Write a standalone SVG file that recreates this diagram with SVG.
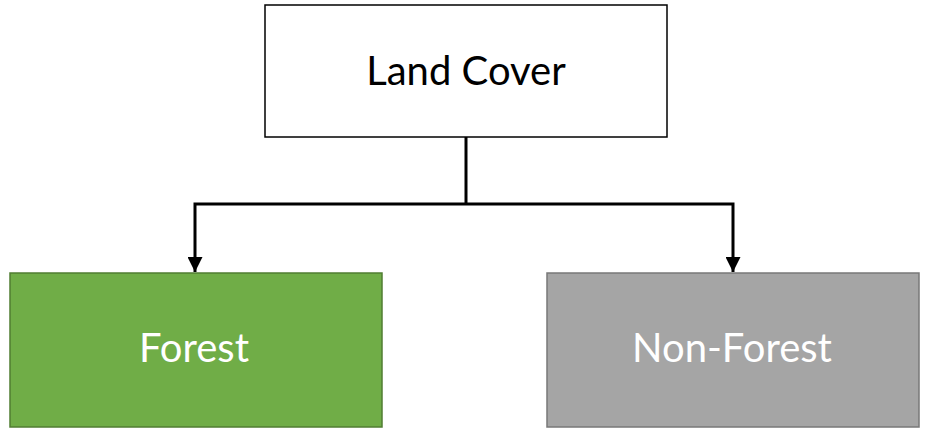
<svg xmlns="http://www.w3.org/2000/svg" width="931" height="435" viewBox="0 0 931 435">
<defs>
<style>
.lbl{font-family:Lato,"Liberation Sans",sans-serif;font-size:40px;text-anchor:middle}
.conn{fill:none;stroke:#000;stroke-width:3}
</style>
<marker id="arr" viewBox="0 0 10 10" refX="10" refY="5" markerWidth="5" markerHeight="5" markerUnits="strokeWidth" orient="auto">
<path d="M0,0 L10,5 L0,10 z" fill="#000"/>
</marker>
</defs>
<rect width="931" height="435" fill="#fff"/>
<g id="land-cover">
<rect x="265" y="5" width="402" height="132" fill="#fff" stroke="#000" stroke-width="1.5"/>
<text class="lbl" x="466" y="85" fill="#000">Land Cover</text>
</g>
<g id="forest">
<rect x="10" y="273" width="372" height="154" fill="#70AD47" stroke="#507E32" stroke-width="1.5"/>
<text class="lbl" x="194" y="362" fill="#fff">Forest</text>
</g>
<g id="non-forest">
<rect x="547" y="273" width="372" height="154" fill="#A5A5A5" stroke="#787878" stroke-width="1.5"/>
<text class="lbl" x="732" y="362" fill="#fff">Non-Forest</text>
</g>
<g id="connectors">
<path class="conn" d="M466,137 V204"/>
<path class="conn" d="M466,204 H195 V272" marker-end="url(#arr)"/>
<path class="conn" d="M466,204 H733 V272" marker-end="url(#arr)"/>
</g>
</svg>
